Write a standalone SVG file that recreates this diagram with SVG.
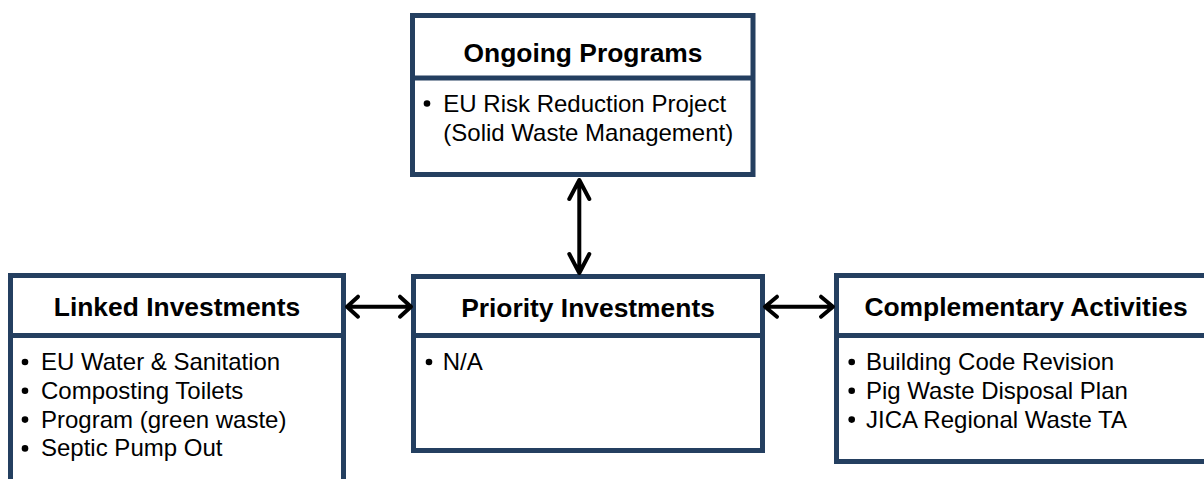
<svg xmlns="http://www.w3.org/2000/svg" width="1204" height="479" viewBox="0 0 1204 479">
<defs>
<style>
.box{fill:#fff;stroke:#243F60;stroke-width:5}
.div{stroke:#243F60;stroke-width:5}
.hd{font-family:"Liberation Sans",Arial,sans-serif;font-weight:bold;font-size:26.4px;fill:#000;text-anchor:middle}
.tx{font-family:"Liberation Sans",Arial,sans-serif;font-size:24px;fill:#000}
.bul{fill:#000}
.arr{fill:none;stroke:#000;stroke-width:4;stroke-linecap:round;stroke-linejoin:round}
</style>
</defs>
<rect width="1204" height="479" fill="#fff"/>
<g id="ongoing-programs">
<rect class="box" x="412.5" y="15.5" width="340.5" height="159"/>
<line class="div" x1="412.5" y1="78" x2="753" y2="78"/>
<text class="hd" x="583" y="61.5">Ongoing Programs</text>
<circle class="bul" cx="427" cy="103.5" r="3.3"/>
<text class="tx" x="443.3" y="111.7">EU Risk Reduction Project</text>
<text class="tx" x="443.3" y="140.5">(Solid Waste Management)</text>
</g>
<g id="linked-investments">
<rect class="box" x="10.5" y="275.5" width="333" height="230"/>
<line class="div" x1="10.5" y1="335.5" x2="343.5" y2="335.5"/>
<text class="hd" x="177" y="316">Linked Investments</text>
<circle class="bul" cx="25" cy="362" r="3.3"/>
<text class="tx" x="41" y="370">EU Water &amp; Sanitation</text>
<circle class="bul" cx="25" cy="390.8" r="3.3"/>
<text class="tx" x="41" y="398.8">Composting Toilets</text>
<circle class="bul" cx="25" cy="419.6" r="3.3"/>
<text class="tx" x="41" y="427.6">Program (green waste)</text>
<circle class="bul" cx="25" cy="448.4" r="3.3"/>
<text class="tx" x="41" y="456.4">Septic Pump Out</text>
</g>
<g id="priority-investments">
<rect class="box" x="413.5" y="276.5" width="349" height="174"/>
<line class="div" x1="413.5" y1="335.5" x2="762.5" y2="335.5"/>
<text class="hd" x="588" y="316.5">Priority Investments</text>
<circle class="bul" cx="429" cy="362" r="3.3"/>
<text class="tx" x="442.7" y="370">N/A</text>
</g>
<g id="complementary-activities">
<rect class="box" x="836.5" y="275.5" width="380" height="186"/>
<line class="div" x1="836.5" y1="335.5" x2="1216.5" y2="335.5"/>
<text class="hd" x="1026" y="316">Complementary Activities</text>
<circle class="bul" cx="851.7" cy="362" r="3.3"/>
<text class="tx" x="866" y="370">Building Code Revision</text>
<circle class="bul" cx="851.7" cy="390.8" r="3.3"/>
<text class="tx" x="866" y="398.8">Pig Waste Disposal Plan</text>
<circle class="bul" cx="851.7" cy="419.6" r="3.3"/>
<text class="tx" x="866" y="427.6">JICA Regional Waste TA</text>
</g>
<g id="connectors">
<path class="arr" d="M579.3 180 V273 M569.3 199 L579.3 180 L589.3 199 M569.3 254 L579.3 273 L589.3 254"/>
<path class="arr" d="M347 306.7 H411 M358 296.7 L347 306.7 L358 316.7 M400 296.7 L411 306.7 L400 316.7"/>
<path class="arr" d="M765 306.7 H833 M777 296.7 L765 306.7 L777 316.7 M821 296.7 L833 306.7 L821 316.7"/>
</g>
</svg>
